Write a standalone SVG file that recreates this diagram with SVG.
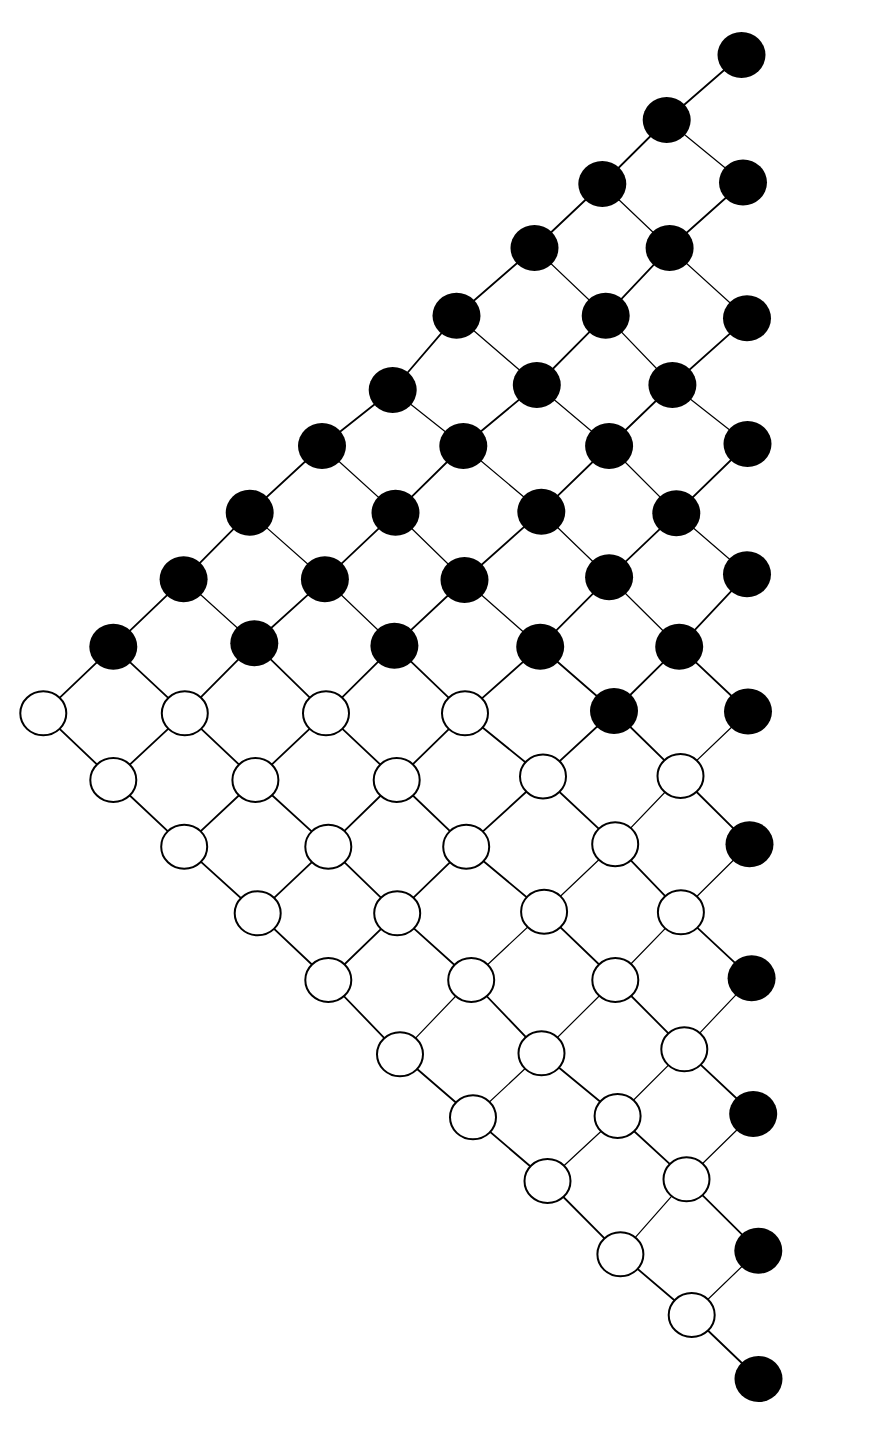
<svg xmlns="http://www.w3.org/2000/svg" width="886" height="1433" viewBox="0 0 886 1433">
<style>
.e{stroke:#000;stroke-width:1.8;stroke-linecap:round}
.t{stroke:#000;stroke-width:1.2;stroke-linecap:round}
.b{fill:#000;stroke:none}
.w{fill:#fff;stroke:#000;stroke-width:2}
</style>
<rect width="886" height="1433" fill="#fff"/>
<g id="connectors">
<line class="e" x1="741.5" y1="55" x2="666.7" y2="120"/>
<line class="e" x1="666.7" y1="120" x2="602.3" y2="184"/>
<line class="e" x1="743" y1="182.5" x2="669.6" y2="248"/>
<line class="e" x1="602.3" y1="184" x2="534.5" y2="248"/>
<line class="e" x1="669.6" y1="248" x2="605.7" y2="315.7"/>
<line class="e" x1="747" y1="318.3" x2="672.4" y2="385"/>
<line class="e" x1="534.5" y1="248" x2="456.5" y2="315.7"/>
<line class="e" x1="605.7" y1="315.7" x2="536.8" y2="385"/>
<line class="e" x1="672.4" y1="385" x2="609.1" y2="446"/>
<line class="e" x1="747.5" y1="444" x2="676.3" y2="513.3"/>
<line class="e" x1="456.5" y1="315.7" x2="392.7" y2="390"/>
<line class="e" x1="536.8" y1="385" x2="463.3" y2="446"/>
<line class="e" x1="609.1" y1="446" x2="541.3" y2="511.7"/>
<line class="e" x1="676.3" y1="513.3" x2="609.1" y2="577.3"/>
<line class="e" x1="747" y1="574.3" x2="679.2" y2="646.7"/>
<line class="e" x1="392.7" y1="390" x2="322" y2="446"/>
<line class="e" x1="463.3" y1="446" x2="395.5" y2="512.7"/>
<line class="e" x1="541.3" y1="511.7" x2="464.5" y2="580"/>
<line class="e" x1="609.1" y1="577.3" x2="540.2" y2="646.7"/>
<line class="e" x1="679.2" y1="646.7" x2="614" y2="711"/>
<line class="t" x1="748" y1="711.5" x2="680.5" y2="776"/>
<line class="e" x1="322" y1="446" x2="249.7" y2="512.7"/>
<line class="e" x1="395.5" y1="512.7" x2="324.9" y2="579.3"/>
<line class="e" x1="464.5" y1="580" x2="394.4" y2="645.7"/>
<line class="e" x1="540.2" y1="646.7" x2="465" y2="713.3"/>
<line class="e" x1="614" y1="711" x2="543" y2="776.5"/>
<line class="t" x1="680.5" y1="776" x2="615.2" y2="844.2"/>
<line class="t" x1="749.5" y1="844.3" x2="680.9" y2="912.3"/>
<line class="e" x1="249.7" y1="512.7" x2="183.6" y2="579.3"/>
<line class="e" x1="324.9" y1="579.3" x2="254.3" y2="643.3"/>
<line class="e" x1="394.4" y1="645.7" x2="326" y2="713.3"/>
<line class="e" x1="465" y1="713.3" x2="396.7" y2="780"/>
<line class="e" x1="543" y1="776.5" x2="466.2" y2="846.7"/>
<line class="t" x1="615.2" y1="844.2" x2="544.1" y2="911.7"/>
<line class="t" x1="680.9" y1="912.3" x2="615.3" y2="980"/>
<line class="t" x1="751.6" y1="978.3" x2="684.3" y2="1049.3"/>
<line class="e" x1="183.6" y1="579.3" x2="113.3" y2="646.7"/>
<line class="e" x1="254.3" y1="643.3" x2="184.8" y2="713.3"/>
<line class="e" x1="326" y1="713.3" x2="255.4" y2="780"/>
<line class="e" x1="396.7" y1="780" x2="328.3" y2="846.7"/>
<line class="e" x1="466.2" y1="846.7" x2="397.2" y2="913.3"/>
<line class="t" x1="544.1" y1="911.7" x2="471.2" y2="980"/>
<line class="t" x1="615.3" y1="980" x2="541.5" y2="1053.3"/>
<line class="t" x1="684.3" y1="1049.3" x2="617.6" y2="1116"/>
<line class="t" x1="753.2" y1="1114" x2="686.5" y2="1179.3"/>
<line class="e" x1="113.3" y1="646.7" x2="43.3" y2="713.3"/>
<line class="e" x1="184.8" y1="713.3" x2="113.3" y2="780"/>
<line class="e" x1="255.4" y1="780" x2="184.2" y2="846.7"/>
<line class="e" x1="328.3" y1="846.7" x2="257.7" y2="913.3"/>
<line class="e" x1="397.2" y1="913.3" x2="328.3" y2="980"/>
<line class="t" x1="471.2" y1="980" x2="400" y2="1054.3"/>
<line class="t" x1="541.5" y1="1053.3" x2="473" y2="1117.3"/>
<line class="t" x1="617.6" y1="1116" x2="547.5" y2="1181"/>
<line class="t" x1="686.5" y1="1179.3" x2="620.4" y2="1254.3"/>
<line class="t" x1="758.3" y1="1250.7" x2="691.7" y2="1315"/>
<line class="t" x1="666.7" y1="120" x2="743" y2="182.5"/>
<line class="t" x1="602.3" y1="184" x2="669.6" y2="248"/>
<line class="t" x1="669.6" y1="248" x2="747" y2="318.3"/>
<line class="t" x1="534.5" y1="248" x2="605.7" y2="315.7"/>
<line class="t" x1="605.7" y1="315.7" x2="672.4" y2="385"/>
<line class="t" x1="672.4" y1="385" x2="747.5" y2="444"/>
<line class="t" x1="456.5" y1="315.7" x2="536.8" y2="385"/>
<line class="t" x1="536.8" y1="385" x2="609.1" y2="446"/>
<line class="t" x1="609.1" y1="446" x2="676.3" y2="513.3"/>
<line class="t" x1="676.3" y1="513.3" x2="747" y2="574.3"/>
<line class="t" x1="392.7" y1="390" x2="463.3" y2="446"/>
<line class="t" x1="463.3" y1="446" x2="541.3" y2="511.7"/>
<line class="t" x1="541.3" y1="511.7" x2="609.1" y2="577.3"/>
<line class="t" x1="609.1" y1="577.3" x2="679.2" y2="646.7"/>
<line class="e" x1="679.2" y1="646.7" x2="748" y2="711.5"/>
<line class="t" x1="322" y1="446" x2="395.5" y2="512.7"/>
<line class="t" x1="395.5" y1="512.7" x2="464.5" y2="580"/>
<line class="t" x1="464.5" y1="580" x2="540.2" y2="646.7"/>
<line class="e" x1="540.2" y1="646.7" x2="614" y2="711"/>
<line class="e" x1="614" y1="711" x2="680.5" y2="776"/>
<line class="e" x1="680.5" y1="776" x2="749.5" y2="844.3"/>
<line class="t" x1="249.7" y1="512.7" x2="324.9" y2="579.3"/>
<line class="t" x1="324.9" y1="579.3" x2="394.4" y2="645.7"/>
<line class="e" x1="394.4" y1="645.7" x2="465" y2="713.3"/>
<line class="e" x1="465" y1="713.3" x2="543" y2="776.5"/>
<line class="e" x1="543" y1="776.5" x2="615.2" y2="844.2"/>
<line class="e" x1="615.2" y1="844.2" x2="680.9" y2="912.3"/>
<line class="e" x1="680.9" y1="912.3" x2="751.6" y2="978.3"/>
<line class="t" x1="183.6" y1="579.3" x2="254.3" y2="643.3"/>
<line class="e" x1="254.3" y1="643.3" x2="326" y2="713.3"/>
<line class="e" x1="326" y1="713.3" x2="396.7" y2="780"/>
<line class="e" x1="396.7" y1="780" x2="466.2" y2="846.7"/>
<line class="e" x1="466.2" y1="846.7" x2="544.1" y2="911.7"/>
<line class="e" x1="544.1" y1="911.7" x2="615.3" y2="980"/>
<line class="e" x1="615.3" y1="980" x2="684.3" y2="1049.3"/>
<line class="e" x1="684.3" y1="1049.3" x2="753.2" y2="1114"/>
<line class="e" x1="113.3" y1="646.7" x2="184.8" y2="713.3"/>
<line class="e" x1="184.8" y1="713.3" x2="255.4" y2="780"/>
<line class="e" x1="255.4" y1="780" x2="328.3" y2="846.7"/>
<line class="e" x1="328.3" y1="846.7" x2="397.2" y2="913.3"/>
<line class="e" x1="397.2" y1="913.3" x2="471.2" y2="980"/>
<line class="e" x1="471.2" y1="980" x2="541.5" y2="1053.3"/>
<line class="e" x1="541.5" y1="1053.3" x2="617.6" y2="1116"/>
<line class="e" x1="617.6" y1="1116" x2="686.5" y2="1179.3"/>
<line class="e" x1="686.5" y1="1179.3" x2="758.3" y2="1250.7"/>
<line class="e" x1="43.3" y1="713.3" x2="113.3" y2="780"/>
<line class="e" x1="113.3" y1="780" x2="184.2" y2="846.7"/>
<line class="e" x1="184.2" y1="846.7" x2="257.7" y2="913.3"/>
<line class="e" x1="257.7" y1="913.3" x2="328.3" y2="980"/>
<line class="e" x1="328.3" y1="980" x2="400" y2="1054.3"/>
<line class="e" x1="400" y1="1054.3" x2="473" y2="1117.3"/>
<line class="e" x1="473" y1="1117.3" x2="547.5" y2="1181"/>
<line class="e" x1="547.5" y1="1181" x2="620.4" y2="1254.3"/>
<line class="e" x1="620.4" y1="1254.3" x2="691.7" y2="1315"/>
<line class="e" x1="691.7" y1="1315" x2="758.5" y2="1379"/>
</g>
<g id="n0_0"><ellipse class="b" cx="741.5" cy="55" rx="24" ry="23"/></g>
<g id="n1_0"><ellipse class="b" cx="666.7" cy="120" rx="24" ry="23"/></g>
<g id="n1_1"><ellipse class="b" cx="743" cy="182.5" rx="24" ry="23"/></g>
<g id="n2_0"><ellipse class="b" cx="602.3" cy="184" rx="24" ry="23"/></g>
<g id="n2_1"><ellipse class="b" cx="669.6" cy="248" rx="24" ry="23"/></g>
<g id="n2_2"><ellipse class="b" cx="747" cy="318.3" rx="24" ry="23"/></g>
<g id="n3_0"><ellipse class="b" cx="534.5" cy="248" rx="24" ry="23"/></g>
<g id="n3_1"><ellipse class="b" cx="605.7" cy="315.7" rx="24" ry="23"/></g>
<g id="n3_2"><ellipse class="b" cx="672.4" cy="385" rx="24" ry="23"/></g>
<g id="n3_3"><ellipse class="b" cx="747.5" cy="444" rx="24" ry="23"/></g>
<g id="n4_0"><ellipse class="b" cx="456.5" cy="315.7" rx="24" ry="23"/></g>
<g id="n4_1"><ellipse class="b" cx="536.8" cy="385" rx="24" ry="23"/></g>
<g id="n4_2"><ellipse class="b" cx="609.1" cy="446" rx="24" ry="23"/></g>
<g id="n4_3"><ellipse class="b" cx="676.3" cy="513.3" rx="24" ry="23"/></g>
<g id="n4_4"><ellipse class="b" cx="747" cy="574.3" rx="24" ry="23"/></g>
<g id="n5_0"><ellipse class="b" cx="392.7" cy="390" rx="24" ry="23"/></g>
<g id="n5_1"><ellipse class="b" cx="463.3" cy="446" rx="24" ry="23"/></g>
<g id="n5_2"><ellipse class="b" cx="541.3" cy="511.7" rx="24" ry="23"/></g>
<g id="n5_3"><ellipse class="b" cx="609.1" cy="577.3" rx="24" ry="23"/></g>
<g id="n5_4"><ellipse class="b" cx="679.2" cy="646.7" rx="24" ry="23"/></g>
<g id="n5_5"><ellipse class="b" cx="748" cy="711.5" rx="24" ry="23"/></g>
<g id="n6_0"><ellipse class="b" cx="322" cy="446" rx="24" ry="23"/></g>
<g id="n6_1"><ellipse class="b" cx="395.5" cy="512.7" rx="24" ry="23"/></g>
<g id="n6_2"><ellipse class="b" cx="464.5" cy="580" rx="24" ry="23"/></g>
<g id="n6_3"><ellipse class="b" cx="540.2" cy="646.7" rx="24" ry="23"/></g>
<g id="n6_4"><ellipse class="b" cx="614" cy="711" rx="24" ry="23"/></g>
<g id="n6_5"><ellipse class="w" cx="680.5" cy="776" rx="23" ry="22"/></g>
<g id="n6_6"><ellipse class="b" cx="749.5" cy="844.3" rx="24" ry="23"/></g>
<g id="n7_0"><ellipse class="b" cx="249.7" cy="512.7" rx="24" ry="23"/></g>
<g id="n7_1"><ellipse class="b" cx="324.9" cy="579.3" rx="24" ry="23"/></g>
<g id="n7_2"><ellipse class="b" cx="394.4" cy="645.7" rx="24" ry="23"/></g>
<g id="n7_3"><ellipse class="w" cx="465" cy="713.3" rx="23" ry="22"/></g>
<g id="n7_4"><ellipse class="w" cx="543" cy="776.5" rx="23" ry="22"/></g>
<g id="n7_5"><ellipse class="w" cx="615.2" cy="844.2" rx="23" ry="22"/></g>
<g id="n7_6"><ellipse class="w" cx="680.9" cy="912.3" rx="23" ry="22"/></g>
<g id="n7_7"><ellipse class="b" cx="751.6" cy="978.3" rx="24" ry="23"/></g>
<g id="n8_0"><ellipse class="b" cx="183.6" cy="579.3" rx="24" ry="23"/></g>
<g id="n8_1"><ellipse class="b" cx="254.3" cy="643.3" rx="24" ry="23"/></g>
<g id="n8_2"><ellipse class="w" cx="326" cy="713.3" rx="23" ry="22"/></g>
<g id="n8_3"><ellipse class="w" cx="396.7" cy="780" rx="23" ry="22"/></g>
<g id="n8_4"><ellipse class="w" cx="466.2" cy="846.7" rx="23" ry="22"/></g>
<g id="n8_5"><ellipse class="w" cx="544.1" cy="911.7" rx="23" ry="22"/></g>
<g id="n8_6"><ellipse class="w" cx="615.3" cy="980" rx="23" ry="22"/></g>
<g id="n8_7"><ellipse class="w" cx="684.3" cy="1049.3" rx="23" ry="22"/></g>
<g id="n8_8"><ellipse class="b" cx="753.2" cy="1114" rx="24" ry="23"/></g>
<g id="n9_0"><ellipse class="b" cx="113.3" cy="646.7" rx="24" ry="23"/></g>
<g id="n9_1"><ellipse class="w" cx="184.8" cy="713.3" rx="23" ry="22"/></g>
<g id="n9_2"><ellipse class="w" cx="255.4" cy="780" rx="23" ry="22"/></g>
<g id="n9_3"><ellipse class="w" cx="328.3" cy="846.7" rx="23" ry="22"/></g>
<g id="n9_4"><ellipse class="w" cx="397.2" cy="913.3" rx="23" ry="22"/></g>
<g id="n9_5"><ellipse class="w" cx="471.2" cy="980" rx="23" ry="22"/></g>
<g id="n9_6"><ellipse class="w" cx="541.5" cy="1053.3" rx="23" ry="22"/></g>
<g id="n9_7"><ellipse class="w" cx="617.6" cy="1116" rx="23" ry="22"/></g>
<g id="n9_8"><ellipse class="w" cx="686.5" cy="1179.3" rx="23" ry="22"/></g>
<g id="n9_9"><ellipse class="b" cx="758.3" cy="1250.7" rx="24" ry="23"/></g>
<g id="n10_0"><ellipse class="w" cx="43.3" cy="713.3" rx="23" ry="22"/></g>
<g id="n10_1"><ellipse class="w" cx="113.3" cy="780" rx="23" ry="22"/></g>
<g id="n10_2"><ellipse class="w" cx="184.2" cy="846.7" rx="23" ry="22"/></g>
<g id="n10_3"><ellipse class="w" cx="257.7" cy="913.3" rx="23" ry="22"/></g>
<g id="n10_4"><ellipse class="w" cx="328.3" cy="980" rx="23" ry="22"/></g>
<g id="n10_5"><ellipse class="w" cx="400" cy="1054.3" rx="23" ry="22"/></g>
<g id="n10_6"><ellipse class="w" cx="473" cy="1117.3" rx="23" ry="22"/></g>
<g id="n10_7"><ellipse class="w" cx="547.5" cy="1181" rx="23" ry="22"/></g>
<g id="n10_8"><ellipse class="w" cx="620.4" cy="1254.3" rx="23" ry="22"/></g>
<g id="n10_9"><ellipse class="w" cx="691.7" cy="1315" rx="23" ry="22"/></g>
<g id="n10_10"><ellipse class="b" cx="758.5" cy="1379" rx="24" ry="23"/></g>
</svg>
